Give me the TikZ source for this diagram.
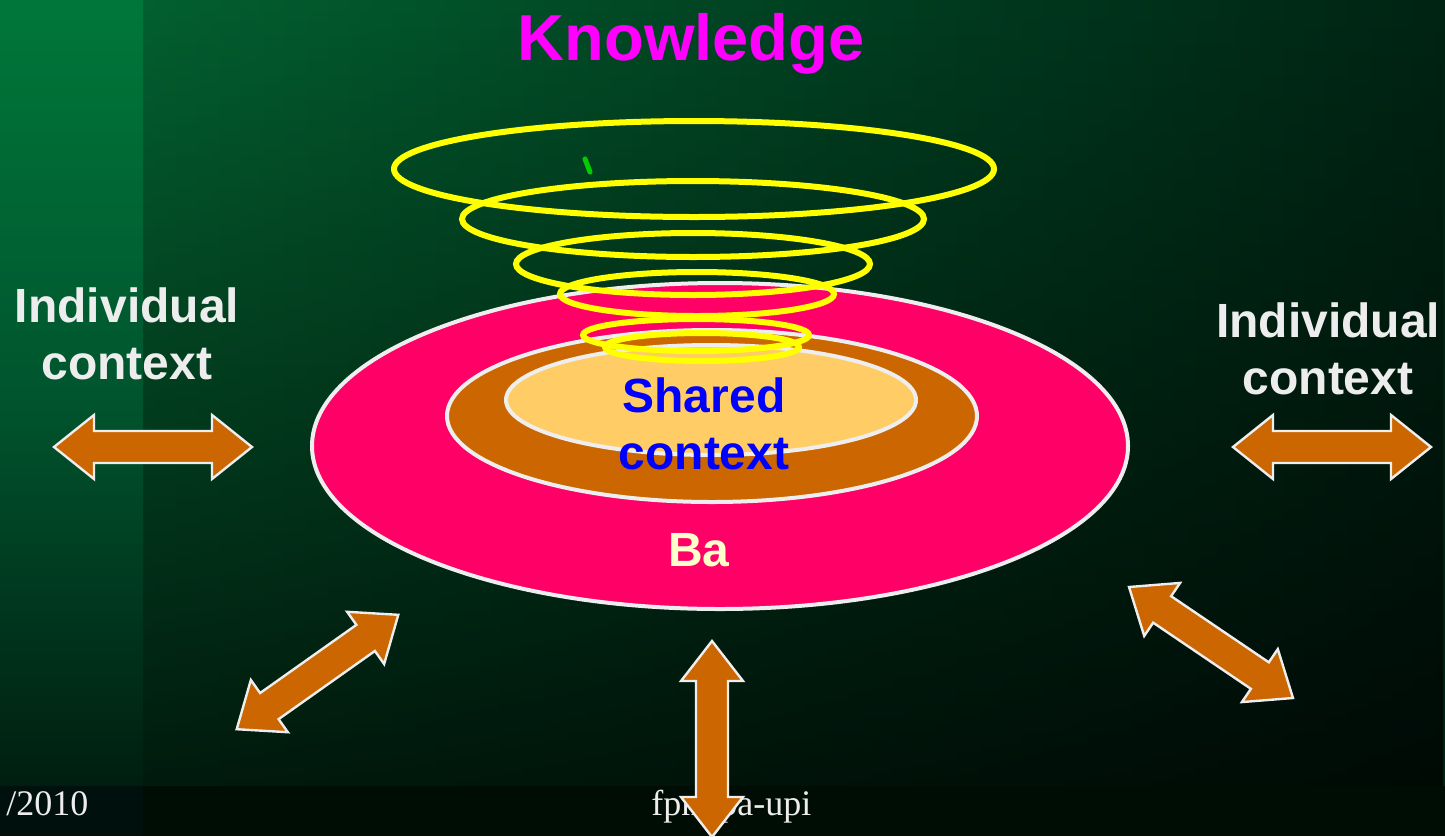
\documentclass[tikz,border=0pt]{standalone}
\usepackage{fontspec}
\usetikzlibrary{shadings,fadings}
\setmainfont{Liberation Sans}
\newfontfamily\serifft{Liberation Serif}
\definecolor{bgL}{HTML}{036030}
\definecolor{bgM}{HTML}{02532B}
\definecolor{bgR}{HTML}{002414}
\definecolor{stripT}{HTML}{00773A}
\definecolor{stripM}{HTML}{00552E}
\definecolor{stripB}{HTML}{001E10}
\definecolor{baPink}{HTML}{FF0066}
\definecolor{ctxBrown}{HTML}{CC6600}
\definecolor{ctxLight}{HTML}{FFCC66}
\definecolor{ringYellow}{HTML}{FFFF00}
\definecolor{arrowOrange}{HTML}{CC6600}
\definecolor{edgeWhite}{HTML}{EEEEEE}
\definecolor{labelWhite}{HTML}{EDEDED}
\definecolor{baCream}{HTML}{FFFFCC}
\definecolor{knowMagenta}{HTML}{FF00FF}
\definecolor{sharedBlue}{HTML}{0000FF}
\definecolor{markGreen}{HTML}{00CC00}
\definecolor{bandLeft}{HTML}{00110D}
\definecolor{bandRight}{HTML}{000D04}
\tikzset{
  ring/.style={draw=ringYellow, line width=3pt},
  disc/.style={draw=edgeWhite, line width=2pt},
  arrowshape/.style={fill=arrowOrange, draw=edgeWhite, line width=1.2pt, line join=miter},
  biglabel/.style={font=\fontsize{24}{28.5}\selectfont\bfseries, align=center, inner sep=0pt},
  footer/.style={font=\serifft\fontsize{18}{20}\selectfont, text=labelWhite, inner sep=0pt, anchor=base west}
}
\newcommand\dblarrow[4]{% center, angle, half length, head half width
  \begin{scope}[shift={#1}, rotate=#2]
    \path[arrowshape] (-#3,0) -- (-#3+40,#4) -- (-#3+40,16) -- (#3-40,16) -- (#3-40,#4)
      -- (#3,0) -- (#3-40,-#4) -- (#3-40,-16) -- (-#3+40,-16) -- (-#3+40,-#4) -- cycle;
  \end{scope}}
\begin{document}
\begin{tikzpicture}[x=0.5pt,y=-0.5pt]
\useasboundingbox (0,0) rectangle (1445,836);
% background
\shade[left color=bgL, middle color=bgM, right color=bgR] (143,0) rectangle (1445,786);
\fill[black, opacity=0.72, path fading=north] (143,0) rectangle (1445,786);
\shade[top color=stripT, bottom color=stripB, middle color=stripM] (0,0) rectangle (143,786);
\fill[bandLeft] (0,786) rectangle (143,836);
\fill[bandRight] (143,786) rectangle (1445,836);
% Ba and contexts
\draw[disc, fill=baPink] (720,446) ellipse [x radius=408, y radius=163];
\draw[disc, fill=ctxBrown] (712,416) ellipse [x radius=265, y radius=86];
\draw[disc, fill=ctxLight] (711,400) ellipse [x radius=205, y radius=55];
% knowledge spiral rings
\draw[ring] (694,169) ellipse [x radius=300, y radius=48];
\draw[ring] (693,219) ellipse [x radius=231, y radius=38];
\draw[ring] (693,264) ellipse [x radius=177, y radius=31];
\draw[ring] (697,294) ellipse [x radius=137, y radius=22];
\draw[ring] (696,335) ellipse [x radius=113, y radius=16];
\draw[ring] (702,347) ellipse [x radius=97, y radius=14];
\draw[markGreen, line width=2.5pt, line cap=round] (585,159) -- (590,172);
% texts
\node[biglabel, text=knowMagenta, font=\fontsize{32.5}{36}\selectfont\bfseries] (know) at (691,44) {Knowledge};
\node[biglabel, text=labelWhite] (indl) at (127,334) {Individual\\context};
\node[biglabel, text=labelWhite] (indr) at (1328,349) {Individual\\context};
\node[biglabel, text=sharedBlue] (shared) at (704,424) {Shared\\context};
\node[biglabel, text=baCream] (ba) at (699,550) {Ba};
% footer
\node[footer] (date) at (6,815) {/2010};
\node[footer] (site) at (651,815) {fpmipa-upi};
% double arrows
\dblarrow{(153,447)}{0}{99}{32}
\dblarrow{(1332,447)}{0}{99}{32}
\dblarrow{(317.5,672)}{35.3}{99}{32}
\dblarrow{(712,739)}{90}{98}{31}
\dblarrow{(1211,642.5)}{-34.1}{99}{32}
\end{tikzpicture}
\end{document}
